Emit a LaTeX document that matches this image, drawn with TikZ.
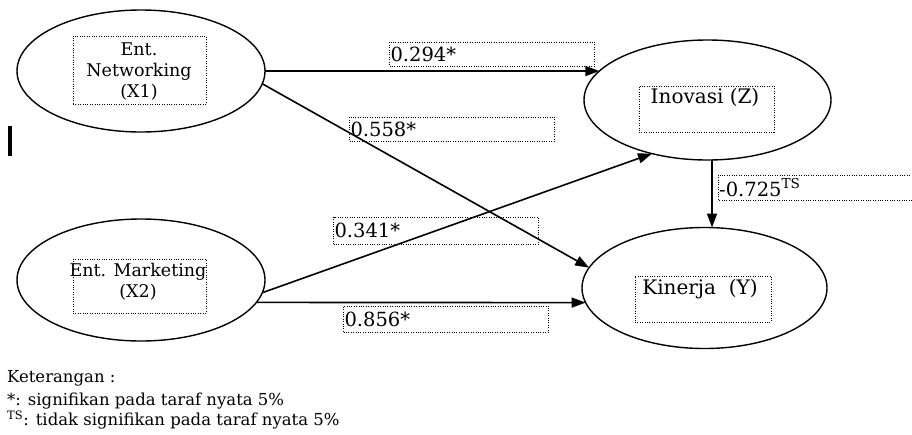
\documentclass[tikz,border=0pt]{standalone}
\usepackage{fontspec}
\setmainfont{DejaVu Serif}
\usetikzlibrary{shapes.geometric,arrows.meta}
\begin{document}
\begin{tikzpicture}[x=1pt,y=-1pt,
  latent/.style={ellipse,draw,line width=1.4pt,minimum width=248pt,minimum height=122pt,inner sep=0pt,outer sep=0pt},
  dotline/.style={line width=1pt,dash pattern=on 1pt off 1.4pt},
  dotbox/.style={draw,dotline,inner sep=0pt},
  coef/.style={dotbox,anchor=west,text width=203pt,minimum height=24pt,inner xsep=1pt,align=left,font=\fontsize{19.5}{22}\selectfont},
  coeftext/.style={anchor=west,inner sep=1pt,font=\fontsize{19.5}{22}\selectfont},
  smalltxt/.style={align=center,font=\fontsize{17.5}{21}\selectfont},
  bigtxt/.style={align=center,font=\fontsize{20}{24}\selectfont},
  legend/.style={anchor=west,inner sep=0pt,font=\fontsize{16.5}{19}\selectfont},
  arr/.style={line width=1.6pt,-{Triangle[length=14pt,width=10pt]}}]
\useasboundingbox (0,0) rectangle (912,434);
\clip (0,0) rectangle (912,434);
% latent variables
\node[latent] (X1) at (141,71) {};
\node[latent] (X2) at (141,280) {};
\node[latent,minimum width=247pt,minimum height=120pt] (Z) at (707.5,100) {};
\node[latent,minimum width=245pt,minimum height=121pt] (Y) at (704.5,288) {};
% inner dotted boxes
\node[dotbox,minimum width=133pt,minimum height=68pt] (bX1) at (139.5,70) {};
\node[dotbox,minimum width=133pt,minimum height=54pt] (bX2) at (139.5,286) {};
\node[dotbox,minimum width=135pt,minimum height=46pt] (bZ) at (706.5,109) {};
\node[dotbox,minimum width=136pt,minimum height=46pt] (bY) at (703,299) {};
% inner texts
\node[smalltxt] (tX1) at (139,71) {Ent.\\Networking\\(X1)};
\node[smalltxt] (tX2) at (138,282) {Ent. Marketing\\(X2)};
\node[bigtxt] (tZ) at (705,97) {Inovasi (Z)};
\node[bigtxt] (tY) at (700,289) {Kinerja~~(Y)};
% paths
\draw[arr] (X1.east) -- (Z.165.7);
\draw[arr] (X1.-6.4) -- (Y.170.5);
\draw[arr] (X2.-6.4) -- (Z.224);
\draw[arr] (X2.-11.6) -- (Y.187.7);
\draw[arr] ([xshift=4.5pt]Z.south) -- ([xshift=7.5pt]Y.north);
% coefficient labels
\node[coef] (c1) at (389,54) {0.294*};
\node[coef] (c2) at (349,129) {0.558*};
\node[coef,minimum height=27pt] (c3) at (333,230.5) {0.341*};
\node[coef,minimum height=26pt] (c4) at (343,319) {0.856*};
\node[coeftext] (c5) at (718,187.5) {-0.725\textsuperscript{TS}};
\draw[dotline] (915,175) -- (718,175) -- (718,200) -- (915,200);
% cursor bar
\fill (8,126) rectangle (12,156);
% legend
\node[legend] (k0) at (7,378) {Keterangan :};
\node[legend] (k1) at (7,401) {*: signifikan pada taraf nyata 5\%};
\node[legend] (k2) at (7,420) {\textsuperscript{TS}: tidak signifikan pada taraf nyata 5\%};
\end{tikzpicture}
\end{document}
